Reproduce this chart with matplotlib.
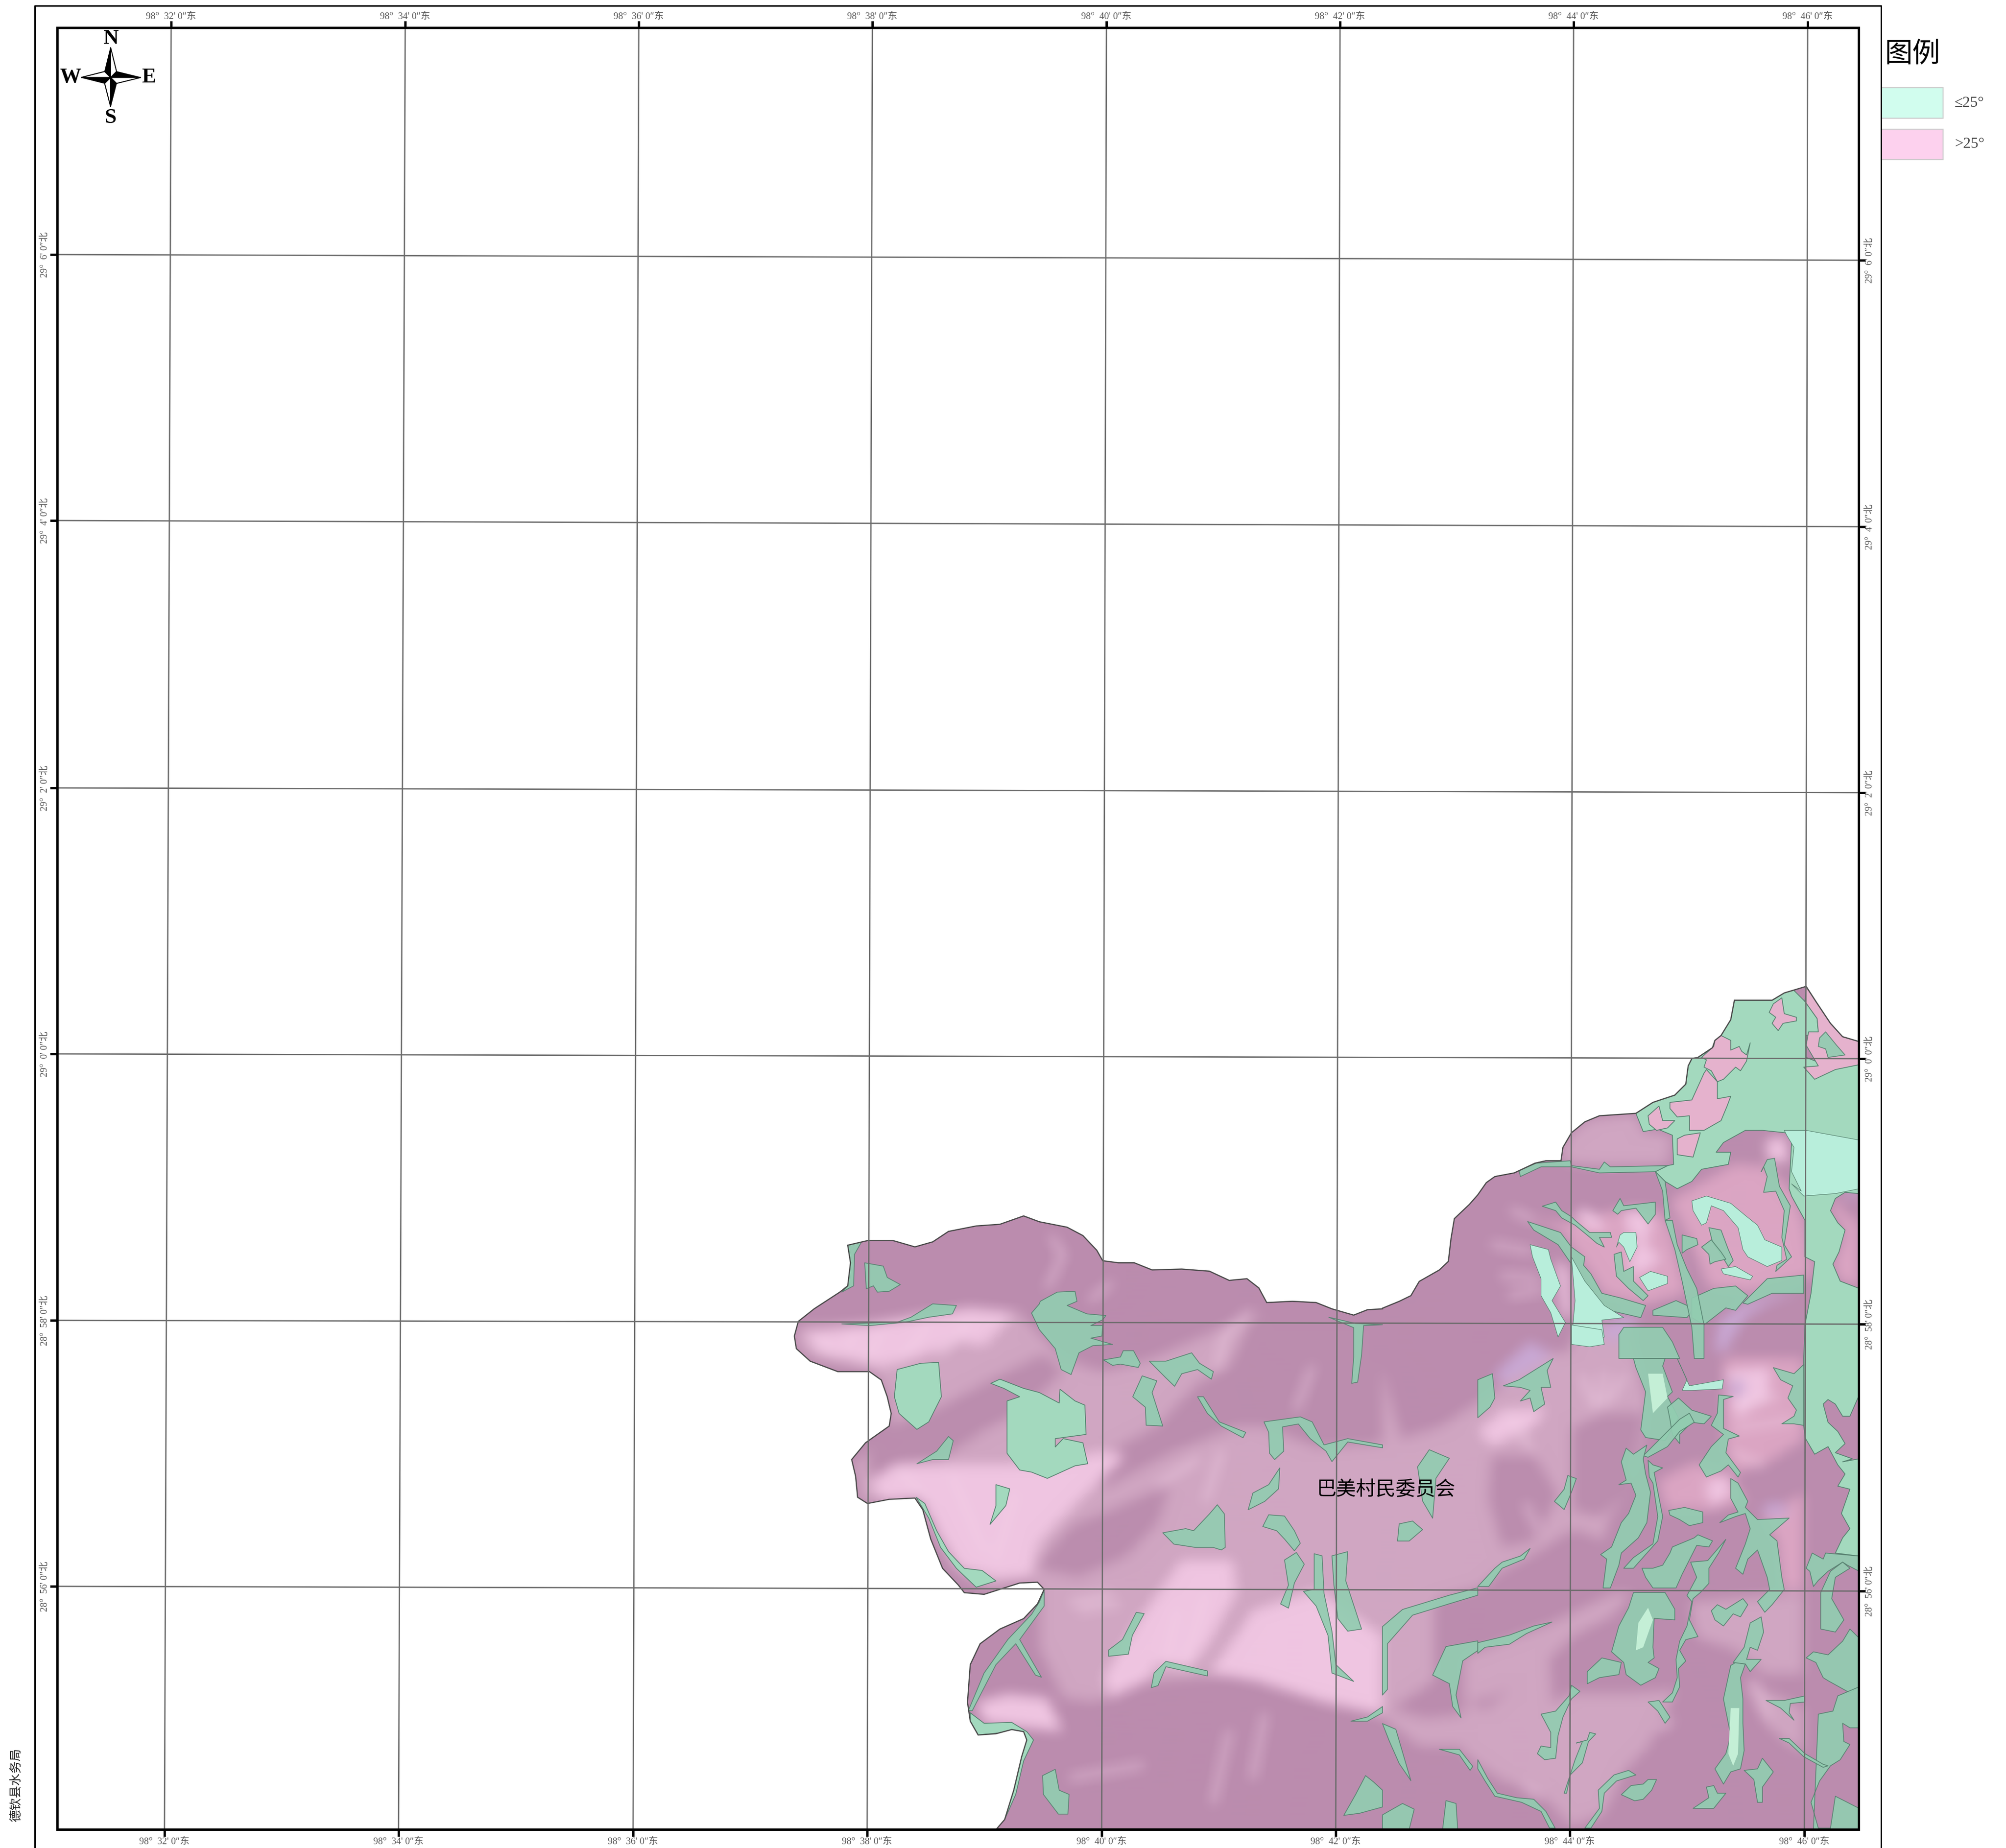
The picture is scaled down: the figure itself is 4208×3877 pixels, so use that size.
import numpy as np
import matplotlib
matplotlib.use('Agg')
import matplotlib.pyplot as plt
from matplotlib.figure import Figure
from matplotlib.backends.backend_agg import FigureCanvasAgg
from matplotlib.patches import Polygon, Rectangle

SERIF = ['Liberation Serif', 'Noto Sans CJK SC', 'DejaVu Sans']
plt.rcParams['font.family'] = SERIF

# graticule, all read in picture pixels
lon_labels = ['98°  32\' 0″东', '98°  34\' 0″东', '98°  36\' 0″东', '98°  38\' 0″东',
              '98°  40\' 0″东', '98°  42\' 0″东', '98°  44\' 0″东', '98°  46\' 0″东']
lon_top = [359, 850, 1340, 1830, 2321, 2811, 3301, 3792]
lon_bottom = [345, 836, 1328, 1819, 2311, 2802, 3293, 3785]
lat_labels = ['29°  6\' 0″北', '29°  4\' 0″北', '29°  2\' 0″北', '29°  0\' 0″北',
              '28°  58\' 0″北', '28°  56\' 0″北']
lat_left = [534, 1092, 1653, 2211, 2770, 3328]
lat_right = [546, 1105, 1663, 2221, 2778, 3338]

def crop_a(pts):
    return [(1600 + x / 1.206, 2500 + y / 1.1387) for x, y in pts]

def crop_b(pts):
    return [(2900 + x / 1.4255, 2000 + y / 0.8354) for x, y in pts]

def crop_c(pts):
    return [(3100 + x / 1.96, 2050 + y / 1.96) for x, y in pts]

def crop_d(pts):
    return [(3100 + x / 1.96, 2850 + y / 1.568) for x, y in pts]

boundary = crop_a([(80,345),(90,310),(130,280),(195,240),(215,225),(222,170),(215,128),(265,117),(330,117),
    (385,132),(430,120),(470,95),(540,82),(600,78),(660,58),(700,72),(770,85),(810,105),(845,140),(860,165),
    (900,170),(940,170),(985,187),(1060,185),(1130,190),(1180,212),(1225,208),(1255,230),(1275,265),(1340,262),
    (1400,265),(1440,280),(1495,295),(1530,282),(1568,280)]) + crop_b([(0,622),(50,610),(85,600),(110,575),
    (170,555),(197,540),(205,500),(215,465),(260,440)]) + crop_c([(0,895),(35,845),(70,820),(150,805),(235,765),
    (280,755),(342,755),(350,700),(385,640),(440,595),(500,570),(650,560),(720,515),(810,485),(855,440),(865,365),
    (880,335),(905,330),(965,290),(975,260),(1000,240),(1040,175),(1055,95),(1210,95),(1260,65),(1350,38),(1390,100),
    (1450,190),(1500,245),(1568,265)]) + crop_b([(1424,1535)]) + crop_a([
    (592,1522),(612,1500),(635,1430),(655,1350),(668,1310),(660,1290),(630,1285),(590,1295),(545,1298),(525,1265),
    (518,1220),(525,1130),(550,1080),(600,1045),(660,1020),(695,985),(712,950),(695,933),(650,935),(600,950),
    (560,962),(510,958),(495,940),(455,900),(425,830),(405,760),(385,732),(320,735),(265,745),(240,730),(235,680),
    (225,640),(260,600),(320,560),(325,530),(315,490),(300,450),(270,430),(190,430),(120,405),(85,375)])

# terrain tones, painted in this order and then softened
mid_tones = [
    crop_a([(90,320),(250,316),(430,290),(530,275),(650,290),(760,400),(860,430),(980,400),(1150,330),(1240,290),
            (1420,340),(1568,420),(1700,900),(1700,1170),(1568,1250),(1420,1220),(1200,1155),(960,1175),(840,1220),(760,1210),(700,1090),
            (700,960),(680,930),(560,950),(480,900),(400,735),(250,745),(230,650),(320,570),(320,490),(280,430),
            (120,400),(85,370)]),
    crop_b([(0,860),(170,830),(330,770),(500,700),(700,695),(780,780),(730,900),(660,1030),(530,1000),(440,1040),
            (300,1110),(180,1130),(0,1190)]),
    crop_b([(0,1320),(130,1340),(300,1330),(500,1230),(520,1400),(300,1390),(110,1390),(0,1340)]),
    crop_d([(-60,300),(60,200),(100,170),(280,160),(420,-120),(620,-120),(700,150),(680,300),(620,440),(520,540),(380,570),(220,650),(30,730),(-60,770)]),
    crop_d([(-60,980),(300,870),(380,840),(560,770),(640,770),(550,850),(400,910),(280,1000),(150,1080),(40,1120),(-60,1130)]),
    crop_d([(-60,1130),(200,1190),(380,1100),(640,1100),(820,1090),(700,1280),(600,1360),(520,1500),(380,1540),(260,1430),(100,1390),(-60,1300)]),
    crop_d([(870,800),(1340,770),(1340,1040),(1180,1040),(1060,960),(900,920)]),
    crop_d([(1100,1060),(1340,1150),(1340,1300),(1260,1260),(1180,1200)]),
    crop_c([(345,750),(350,700),(385,640),(460,585),(650,560),(680,635),(800,650),(780,775),(530,780),(385,770)]),
]
dark_tones = [
    crop_a([(270,620),(320,560),(440,520),(600,440),(710,390),(760,430),(660,520),(560,570),(450,640),(340,650),(270,690)]),
    crop_a([(860,710),(1040,620),(1200,560),(1270,560),(1400,610),(1568,600),(1568,300),(1240,300),(1180,420),(1100,460),(1000,560),(840,640)]),
    crop_a([(690,900),(780,800),(860,770),(1030,700),(1000,790),(920,870),(800,920)]),
    crop_d([(45,460),(60,320),(230,320),(330,450),(230,600),(100,620)]),
    crop_d([(390,230),(520,180),(680,180),(620,440),(500,520),(390,500)]),
    crop_d([(900,280),(1000,240),(960,330),(880,370),(800,350)]),
    crop_c([(990,720),(1040,670),(1170,630),(1270,640),(1290,800),(1190,850),(1100,790),(1010,770)]),
    crop_c([(810,880),(860,825),(840,870),(855,900),(830,930),(810,890)]),
]
rose_tones = [
    crop_c([(210,1000),(340,1040),(470,1230),(520,1310),(680,1350),(860,1300),(810,1100),(780,1000),(720,950),(560,960),(400,1010)]),
    crop_c([(790,920),(880,1100),(950,1280),(1120,1300),(1380,1230),(1340,1000),(1290,880),(1190,780),(1050,770)]),
    crop_c([(1450,960),(1470,910),(1490,915),(1490,950),(1530,990),(1568,1000),(1568,1280),(1490,1250),(1460,1180),(1485,1130),(1510,1040),(1480,1010)]),
    crop_d([(740,400),(900,340),(1030,380),(1110,470),(950,500),(770,500)]),
    crop_d([(1170,530),(1340,440),(1340,760),(1250,760),(1230,600)]),
    crop_d([(1010,0),(1340,0),(1340,270),(1200,340),(1050,380),(1010,280)]),
]
light_tones = [
    crop_a([(100,340),(250,320),(520,280),(640,290),(560,370),(500,360),(380,400),(300,420),(140,385)]),
    crop_a([(270,690),(340,650),(620,650),(760,640),(860,620),(920,630),(790,750),(700,840),(680,920),(590,925),(500,900),(450,830),(400,735),(300,740)]),
    crop_a([(860,1160),(960,1010),(1060,880),(1190,880),(1200,960),(1130,1080),(1080,1140),(1000,1130),(970,1170),(880,1210)]),
    crop_a([(1130,1150),(1240,1000),(1400,950),(1568,1060),(1568,1250),(1420,1220),(1250,1170)]),
    crop_a([(540,1220),(620,1200),(720,1210),(760,1290),(660,1280),(560,1270)]),
    crop_c([(430,950),(500,990),(530,1040),(460,1040),(400,980)]),
    crop_c([(610,960),(650,950),(720,1010),(690,1100),(760,1160),(640,1240),(620,1170),(660,1080),(610,1040)]),
    crop_c([(1180,680),(1260,650),(1280,760),(1200,760)]),
    crop_c([(320,1160),(370,1200),(385,1400),(350,1400),(330,1260)]),
    crop_d([(1020,40),(1200,30),(1200,130),(1060,200)]),
    crop_d([(930,410),(1030,380),(1040,450),(960,490)]),
    crop_d([(0,240),(100,170),(280,160),(240,220),(60,290)]),
]
purple_tones = [
    crop_b([(330,740),(440,680),(500,700),(520,690),(480,720),(360,755)]),
    crop_c([(990,1420),(1040,1380),(1090,1345),(1210,1310),(1330,1300),(1210,1335),(1110,1390),(1060,1460),(1020,1540),(975,1540)]),
    crop_c([(520,1430),(600,1390),(680,1410),(640,1440),(560,1510),(510,1470)]),
    crop_c([(1510,885),(1568,880),(1568,910),(1510,905)]),
    crop_d([(1040,70),(1100,80),(1080,125),(1030,120)]),
    crop_d([(1150,500),(1230,470),(1290,510),(1220,525)]),
]

# sunlit ridge lines
ridges = [
    crop_a([(140,350),(180,395)]), crop_a([(230,330),(215,385)]), crop_a([(300,340),(260,400)]),
    crop_a([(420,320),(350,400)]), crop_a([(520,320),(450,390)]), crop_a([(730,110),(760,150),(720,230)]),
    crop_a([(880,220),(830,260)]), crop_a([(1230,290),(1170,340),(1150,420)]), crop_a([(1390,420),(1350,520)]),
    crop_a([(340,660),(420,740)]), crop_a([(480,680),(560,860)]), crop_a([(640,720),(590,880)]),
    crop_a([(780,980),(880,960)]), crop_a([(1180,1290),(1140,1460)]), crop_a([(1270,1250),(1240,1400)]),
    crop_a([(780,1400),(960,1370)]), crop_a([(1050,1000),(1020,1120)]), crop_a([(1120,960),(1070,1120)]),
    crop_a([(800,1000),(900,985)]), crop_a([(1000,700),(1100,640)]), crop_a([(1160,620),(1120,740)]),
    crop_c([(140,960),(230,1000)]), crop_c([(60,1100),(220,1130)]), crop_c([(100,1230),(250,1240)]),
    crop_c([(130,1310),(260,1290)]), crop_d([(130,180),(220,300)]), crop_d([(200,480),(240,560)]),
    crop_d([(430,60),(480,160)]), crop_d([(520,50),(500,150)]), crop_d([(600,60),(530,150)]),
    crop_d([(1060,160),(1230,130)]), crop_d([(1060,230),(1290,200)]), crop_d([(1050,310),(1170,350)]),
    crop_d([(1130,1060),(1190,1180)]), crop_d([(750,1220),(800,1190)]), crop_d([(190,1410),(260,1440)]),
]

# <=25 degree ground, broad areas first
pale_parcels = [
    crop_a([(340,425),(400,410),(445,408),(452,490),(420,550),(390,568),(345,530),(333,490)]),
    crop_a([(577,458),(600,448),(660,470),(700,480),(750,505),(752,472),(790,500),(815,510),(818,580),(740,590),
            (740,610),(760,590),(810,600),(822,650),(790,655),(720,685),(680,670),(650,665),(618,625),(618,500),(650,490),(610,470)]),
    crop_a([(590,700),(625,710),(615,750),(575,795),(590,750)]),
    crop_a([(388,730),(410,745),(440,810),(470,860),(510,900),(555,905),(590,930),(540,945),(490,900),(450,850),(420,780)]),
    crop_a([(525,1245),(560,1270),(630,1268),(668,1290),(685,1310),(660,1360),(640,1440),(612,1500),(630,1430),(650,1330),(655,1300),(630,1290),(545,1298),(525,1265)]),
    crop_c([(650,560),(720,515),(810,485),(855,440),(865,365),(880,335),(905,330),(970,285),(975,260),(1000,240),(1040,175),
            (1055,95),(1210,95),(1260,65),(1295,50),(1345,100),(1395,170),(1400,225),(1350,240),(1350,330),(1400,350),(1568,340),
            (1568,890),(1510,885),(1470,910),(1450,960),(1480,1010),(1510,1040),(1485,1130),(1460,1180),(1490,1250),(1568,1280)])
    + crop_d([(1568,120),(1530,190),(1500,190),(1470,150),(1440,135),(1420,150),(1440,210),(1480,240),(1510,280),
            (1470,310),(1540,330),(1500,340),(1568,330),(1568,650),(1470,640),(1500,590),(1530,560),(1495,510),(1530,430),(1480,420),
            (1510,380),(1480,350),(1440,290),(1385,315),(1345,260),(1340,220),(1340,0)])
    + crop_c([(1345,1430),(1370,1300),(1385,1170),(1345,1150),(1345,1000),(1290,900),(1280,870),(1290,680),
            (1265,640),(1170,630),(1100,630),(1010,680),(980,720),(1040,720),(1030,770),(920,790),(880,840),(820,870),(770,840),
            (730,800),(780,775),(805,770),(800,650),(740,625),(680,635)]),
]
# steep ground inside the large north-east area
pink_inclusions = [
    crop_c([(1215,110),(1250,85),(1260,150),(1310,165),(1310,180),(1255,190),(1235,220),(1210,190),(1225,165),(1198,145)]),
    crop_c([(920,330),(970,285),(975,260),(1000,240),(1040,260),(1040,300),(1075,285),(1085,305),(1105,320),(1120,270),
            (1105,345),(1080,385),(1060,370),(1010,420),(985,430),(960,385),(930,370),(940,340)]),
    crop_c([(790,515),(880,505),(930,395),(940,380),(985,430),(985,500),(1040,490),(1025,530),(1000,590),(930,630),(870,630),(870,570),(820,575),(790,540)]),
    crop_c([(700,570),(745,530),(760,590),(810,590),(780,620),(735,630),(705,605)]),
    crop_c([(820,665),(850,650),(915,640),(885,740),(820,730)]),
    crop_c([(1350,40),(1390,100),(1450,190),(1500,245),(1568,265),(1568,360),(1470,380),(1385,420),(1340,370),(1400,365),(1350,280),(1360,225),(1400,225),(1395,170),(1345,100)]),
]
bright_parcels = [
    crop_c([(1260,630),(1350,630),(1568,670),(1568,870),(1470,890),(1340,900),(1290,850),(1330,880),(1290,800),(1300,700),(1270,650)]),
    crop_c([(880,920),(940,900),(1040,930),(1100,980),(1150,1020),(1180,1080),(1250,1110),(1250,1165),(1190,1190),(1110,1150),(1090,1120),(1070,1030),(1010,960),(960,940),(940,1010),(920,1020),(885,960)]),
    crop_c([(215,1100),(290,1120),(300,1160),(340,1270),(305,1330),(360,1420),(330,1480),(300,1380),(260,1310),(260,1240),(225,1150)]),
    crop_c([(385,1150),(440,1250),(520,1350),(600,1400),(510,1410),(520,1480),(480,1500),(385,1500),(400,1330)]),
    crop_c([(600,1050),(650,1050),(655,1110),(625,1170),(600,1110),(580,1090),(570,1110),(585,1060)]),
    crop_c([(665,1235),(710,1210),(780,1230),(780,1260),(700,1290)]),
    crop_c([(1000,1200),(1060,1190),(1130,1230),(1120,1245),(1010,1220)]),
    crop_c([(385,1430),(385,1510),(460,1520),(520,1510),(510,1450)]),
    crop_d([(820,0),(870,90),(1010,70),(1005,100),(880,105),(840,105),(860,70)]),
]
green_parcels = [
    crop_a([(215,128),(250,120),(232,150),(230,225),(200,240),(215,225),(222,170)]),
    crop_a([(258,170),(305,178),(315,205),(348,222),(320,238),(290,240),(280,225),(262,232)]),
    crop_a([(200,316),(340,312),(375,300),(430,268),(490,272),(480,292),(420,300),(360,312),(270,320)]),
    crop_a([(702,262),(745,240),(790,238),(795,262),(770,272),(820,292),(868,296),(860,306),(830,320),(860,320),
            (858,345),(830,350),(885,365),(835,368),(800,385),(780,437),(755,425),(740,375),(700,330),(680,290),(700,268)]),
    crop_a([(862,402),(905,395),(912,380),(938,380),(955,410),(950,420),(905,412),(885,415)]),
    crop_a([(978,405),(1020,405),(1085,385),(1105,410),(1140,430),(1135,448),(1100,425),(1060,435),(1042,465),(1020,445)]),
    crop_a([(1432,300),(1500,315),(1568,318),(1520,320),(1515,390),(1505,455),(1490,458),(1495,395),(1495,325)]),
    crop_a([(390,650),(440,620),(470,585),(482,595),(470,640),(430,640)]),
    crop_a([(1012,815),(1070,805),(1090,810),(1130,770),(1150,748),(1168,770),(1170,850),(1160,856),(1140,850),(1095,850),(1040,842)]),
    crop_a([(1228,760),(1240,720),(1280,700),(1308,660),(1305,710),(1270,740)]),
    crop_a([(936,490),(960,440),(997,452),(985,480),(1012,560),(970,558),(968,515)]),
    crop_a([(1100,490),(1115,490),(1155,550),(1222,575),(1215,588),(1160,560),(1125,530)]),
    crop_a([(1268,550),(1360,538),(1390,550),(1420,605),(1480,590),(1568,605),(1568,612),(1480,598),(1440,645),(1425,620),
            (1385,590),(1355,555),(1315,562),(1318,620),(1295,640),(1282,625),(1280,575)]),
    crop_a([(1265,800),(1280,772),(1320,775),(1345,810),(1360,840),(1345,858),(1320,830),(1300,810)]),
    crop_a([(1320,880),(1350,862),(1370,890),(1345,935),(1330,995),(1310,985),(1330,940)]),
    crop_a([(1368,955),(1395,950),(1395,865),(1415,870),(1420,960),(1440,1050),(1450,1130),(1495,1170),(1440,1150),(1430,1060),(1400,990)]),
    crop_a([(1440,870),(1480,860),(1475,930),(1515,1045),(1480,1050),(1455,1020),(1445,940)]),
    crop_a([(875,1110),(875,1095),(910,1070),(945,1005),(965,1008),(935,1060),(925,1105)]),
    crop_a([(983,1185),(990,1150),(1020,1122),(1125,1145),(1125,1157),(1020,1135),(1000,1180)]),
    crop_a([(700,980),(712,952),(712,990),(650,1070),(705,1160),(690,1155),(640,1080),(590,1130),(530,1240),(520,1240),(560,1150),(620,1070),(680,1010)]),
    crop_a([(708,1395),(740,1380),(750,1430),(775,1440),(772,1487),(748,1487),(710,1440)]),
    crop_a([(1470,1490),(1500,1440),(1525,1395),(1545,1410),(1568,1430),(1568,1470),(1510,1485)]),
    crop_a([(1488,1265),(1530,1255),(1568,1230),(1568,1245),(1530,1265)]),
    crop_b([(150,1265),(190,1215),(285,1205),(285,1222),(240,1240),(220,1300),(235,1340),(210,1320),(200,1280)]),
    crop_b([(0,1180),(60,1150),(200,1125),(285,1112),(285,1125),(200,1140),(90,1160),(15,1210),(15,1290),(0,1300)]),
    crop_b([(170,1395),(230,1395),(270,1425),(262,1432),(230,1405)]),
    crop_b([(0,1350),(40,1360),(85,1450),(50,1420),(20,1380)]),
    crop_b([(0,1510),(60,1490),(95,1500),(80,1535),(0,1535)]),
    crop_b([(180,1535),(190,1485),(220,1490),(225,1535)]),
    crop_b([(120,1010),(80,1030),(45,1030),(50,1000),(90,995)]),
    crop_b([(120,960),(105,900),(140,870),(200,885),(160,920),(150,990)]),
    # north-east valleys
    crop_c([(170,795),(240,765),(380,755),(385,775),(500,790),(520,760),(545,780),(780,775),(730,800),(500,805),(385,780),(260,780),(175,820)]),
    crop_c([(265,942),(320,925),(345,960),(385,985),(400,1000),(460,1050),(545,1050),(550,1070),(500,1070),(520,1110),(490,1095),(455,1065),(400,1020),(345,990),(320,960)]),
    crop_c([(205,1005),(280,1030),(340,1050),(385,1110),(440,1150),(435,1185),(465,1220),(510,1300),(590,1320),(690,1350),(670,1400),(540,1370),(500,1340),(430,1260),(385,1180),(330,1100),(230,1040)]),
    crop_c([(555,960),(585,910),(600,940),(730,925),(730,975),(700,1015),(650,950),(590,960),(575,975)]),
    crop_c([(560,1140),(590,1130),(600,1210),(640,1190),(640,1250),(700,1310),(680,1330),(620,1280),(570,1230)]),
    crop_c([(720,1370),(815,1330),(860,1350),(875,1380),(860,1400),(720,1390)]),
    crop_c([(970,1280),(1060,1270),(1110,1310),(1060,1370),(1020,1360),(930,1430),(880,1400),(880,1320)]),
    crop_c([(770,1000),(800,1000),(820,1100),(860,1200),(900,1280),(930,1430),(930,1568),(890,1568),(880,1440),(840,1250),(810,1120)]),
    crop_c([(730,800),(770,840),(790,990),(770,1000),(760,880)]),
    crop_c([(950,1030),(1000,1040),(1030,1120),(1050,1165),(1030,1190),(1000,1140),(965,1090)]),
    crop_c([(1165,800),(1190,750),(1220,745),(1240,860),(1285,940),(1260,1100),(1290,1150),(1225,1210),(1230,1185),(1270,1160),(1250,1070),(1260,960),(1225,880),(1175,885),(1190,820),(1175,780)]),
    crop_c([(840,1135),(840,1060),(900,1075),(905,1100),(860,1120)]),
    crop_c([(920,1110),(960,1080),(1000,1130),(1020,1160),(975,1170),(955,1180),(950,1140)]),
    crop_c([(1090,1340),(1130,1300),(1190,1240),(1340,1225),(1340,1300),(1210,1300),(1110,1345)]),
    crop_c([(1405,250),(1430,225),(1475,280),(1510,320),(1440,330),(1430,295),(1400,285)]),
    crop_c([(600,1440),(760,1440),(800,1500),(830,1568),(580,1568),(580,1470)]),
    crop_d([(0,70),(60,50),(70,130),(50,160),(0,195)]),
    crop_d([(105,90),(170,70),(270,20),(310,0),(285,40),(300,95),(260,95),(275,150),(230,175),(215,130),(175,140),(215,105),(175,95)]),
    crop_d([(640,0),(770,0),(760,25),(800,110),(780,125),(825,195),(770,270),(690,260),(670,235),(690,110),(650,30)]),
    crop_d([(780,160),(825,130),(880,170),(960,190),(930,215),(880,210),(830,250),(830,280),(800,250),(790,200)]),
    crop_d([(680,320),(780,240),(830,200),(870,180),(890,210),(830,240),(780,290),(700,325)]),
    crop_d([(990,120),(1050,125),(1010,135),(1010,230),(1075,255),(1030,265),(1020,310),(1080,375),(1070,390),(1030,350),(1000,370),(940,390),(910,350),(960,290),(1010,250),(960,220),(985,180)]),
    crop_d([(580,415),(610,400),(590,340),(610,295),(640,315),(695,285),(680,330),(690,380),(710,440),(695,540),(660,590),(590,640),(580,680),(545,755),(515,755),(530,660),(505,645),(550,620),(590,540),(620,510),(650,450),(630,410)]),
    crop_d([(700,335),(720,350),(760,360),(725,375),(760,520),(740,600),(640,690),(600,690),(640,655),(720,610),(740,520),(720,410),(705,390)]),
    crop_d([(785,500),(850,490),(925,505),(925,540),(870,550),(830,530),(790,515)]),
    crop_d([(995,540),(1030,515),(1070,505),(1040,460),(1040,395),(1070,410),(1110,470),(1100,490),(1150,530),(1280,525),(1200,580),(1230,600),(1250,720),(1260,760),(1210,810),(1180,835),(1150,800),(1200,760),(1190,720),(1150,630),(1110,660),(1090,710),(1060,690),(1100,610),(1120,560),(1100,510),(1060,520)]),
    crop_d([(675,690),(720,690),(760,680),(790,640),(800,620),(890,590),(905,580),(965,600),(950,620),(900,615),(840,710),(815,755),(720,755),(690,720)]),
    crop_d([(875,670),(945,665),(1020,595),(990,640),(950,690),(950,740),(915,770),(885,790),(870,860),(905,915),(855,925),(830,960),(855,995),(825,1020),(830,1080),(800,1130),(760,1130),(800,1100),(820,1050),(815,990),(830,930),(860,880),(880,800),(860,780),(900,720)]),
    crop_d([(640,770),(770,770),(810,825),(810,860),(725,855),(720,950),(725,985),(700,1000),(745,1020),(730,1050),(670,1075),(610,1040),(600,1000),(550,965),(580,880),(620,820)]),
    crop_d([(450,1030),(510,985),(590,1000),(580,1040),(500,1050),(450,1070)]),
    crop_d([(960,830),(985,810),(1020,825),(1090,790),(1110,810),(1080,850),(1050,840),(1010,880),(975,860)]),
    crop_d([(1215,30),(1300,50),(1340,20),(1340,220),(1300,215),(1250,215),(1300,190),(1310,170),(1275,130),(1295,90),(1245,70)]),
    crop_d([(1350,690),(1375,640),(1420,660),(1430,640),(1568,650),(1568,700),(1520,680),(1500,670),(1440,700),(1400,730),(1380,750),(1365,700)]),
    crop_d([(1410,770),(1450,700),(1500,670),(1530,690),(1470,720),(1455,790),(1505,860),(1470,900),(1410,890)]),
    crop_d([(1350,985),(1380,965),(1440,975),(1500,930),(1530,890),(1568,920),(1568,1080),(1530,1100),(1440,1060),(1420,1050),(1390,1000)]),
    crop_d([(1400,1170),(1460,1160),(1480,1110),(1568,1080),(1568,1215),(1530,1215),(1500,1200),(1505,1260),(1530,1270),(1490,1320),(1450,1340),(1405,1390),(1370,1460),(1400,1545),(1450,1545),(1470,1440),(1568,1480),(1568,1550),(1380,1550)]),
    crop_d([(1240,1250),(1280,1250),(1345,1300),(1420,1335),(1440,1340),(1420,1345),(1340,1310),(1280,1265)]),
    crop_d([(1185,1125),(1260,1125),(1345,1110),(1345,1130),(1285,1135),(1280,1165),(1300,1190),(1245,1150)]),
    crop_d([(1095,1355),(1150,1350),(1170,1315),(1215,1360),(1170,1410),(1170,1460),(1150,1460),(1135,1385)]),
    crop_d([(885,1480),(950,1445),(940,1410),(970,1405),(985,1430),(1020,1430),(970,1480)]),
    crop_d([(1010,1400),(975,1350),(1020,1300),(1040,1240),(1010,1120),(1040,1010),(1060,1000),(1100,1005),(1080,1050),(1090,1120),(1090,1200),(1095,1290),(1080,1350),(1040,1360)]),
    crop_d([(1050,1000),(1095,950),(1120,870),(1165,850),(1175,900),(1150,960),(1120,950),(1105,990),(1165,990),(1120,1030),(1100,1005)]),
    crop_d([(700,1130),(745,1125),(790,1180),(770,1200),(740,1160)]),
    crop_d([(590,1435),(630,1405),(680,1400),(700,1385),(735,1385),(715,1420),(680,1450),(645,1455)]),
    crop_d([(440,1545),(500,1480),(495,1420),(560,1370),(620,1355),(650,1370),(570,1390),(520,1430),(510,1490),(465,1545)]),
    crop_d([(355,1430),(400,1320),(430,1260),(405,1265),(450,1255),(460,1230),(485,1235),(455,1260),(430,1330),(380,1370),(365,1430)]),
    crop_d([(260,1170),(320,1160),(375,1110),(385,1075),(420,1095),(385,1120),(350,1180),(330,1240),(320,1315),(275,1320),(245,1300),(260,1275),(300,1280),(300,1230)]),
    crop_d([(0,935),(130,910),(230,880),(305,867),(200,905),(130,940),(30,950),(0,970)]),
    crop_d([(0,750),(70,690),(100,670),(175,650),(215,625),(190,660),(100,690),(45,750)]),
    crop_d([(315,470),(355,430),(370,385),(405,395),(385,440),(355,497)]),
    crop_d([(0,1320),(40,1380),(80,1430),(160,1445),(230,1450),(280,1490),(318,1545),(295,1545),(260,1490),(180,1460),(70,1440),(30,1390),(0,1350)]),
]
valley_cores = [
    crop_d([(660,870),(700,820),(720,860),(680,950),(650,960)]),
    crop_d([(1040,1150),(1075,1150),(1070,1300),(1050,1340),(1030,1300)]),
    crop_d([(700,50),(760,50),(780,130),(720,180)]),
]

legend_labels = ['≤25°', '>25°']
legend_colors = ['#d1fdee', '#fdd1ee']

W, H = 4208, 3877

# terrain is drawn on a half size canvas, blurred, and put back as an image
def terrain_image():
    f = Figure(figsize=(W / 200, H / 200), dpi=100, facecolor='#bb8cae')
    FigureCanvasAgg(f)
    t = f.add_axes([0, 0, 1, 1])
    t.set_xlim(0, W)
    t.set_ylim(H, 0)
    t.axis('off')
    for polys, col in [(mid_tones, '#d0a6c2'), (dark_tones, '#bb8dae'), (rose_tones, '#dba5c3'),
                       (light_tones, '#efc5e1'), (purple_tones, '#c9a8d4')]:
        for p in polys:
            t.add_patch(Polygon(p, closed=True, facecolor=col, edgecolor='none'))
    for r in ridges:
        t.plot([p[0] for p in r], [p[1] for p in r], color='#f6d4ea', lw=2.5)
    f.canvas.draw()
    img = np.asarray(f.canvas.buffer_rgba())[:, :, :3].astype(float)
    for axis in (0, 1):
        for i in range(2):
            c = np.cumsum(img, axis=axis)
            img = (np.roll(c, -7, axis=axis) - np.roll(c, 8, axis=axis)) / 15
            # the wrapped rows at the rim are outside the map
    return np.clip(img, 0, 255).astype(np.uint8)

fig = plt.figure(figsize=(42.08, 38.77), dpi=100)
ax = fig.add_axes([0, 0, 1, 1])
ax.axis('off')

map_shape = Polygon(boundary, closed=True, facecolor='#bb8cae', edgecolor='none', zorder=1)
ax.add_patch(map_shape)
im = ax.imshow(terrain_image(), extent=(0, W, H, 0), aspect='auto', zorder=2, interpolation='bilinear')
im.set_clip_path(map_shape)
ax.set_xlim(0, W)
ax.set_ylim(H, 0)

def paint(polys, color, z, edge='none', lw=0, alpha=1):
    for p in polys:
        patch = Polygon(p, closed=True, facecolor=color, edgecolor=edge, linewidth=lw,
                        alpha=alpha, joinstyle='round', zorder=z)
        ax.add_patch(patch)
        patch.set_clip_path(map_shape)

EDGE = '#55806e'
paint(pale_parcels, '#a3d9be', 6, EDGE, 1.2)
paint(pink_inclusions, '#e5b2cd', 7, EDGE, 1.2)
paint(green_parcels, '#92cdb1', 9, EDGE, 1.2, .92)
paint(bright_parcels, '#b8eedb', 9.5, EDGE, .8)
paint(valley_cores, '#c4efd6', 9.7)

# outline on top of everything
ax.add_patch(Polygon(boundary, closed=True, fill=False, edgecolor='#4a4a4a', linewidth=1.8, zorder=10))

# graticule
for a, b in zip(lon_top, lon_bottom):
    ax.plot([a, b], [58, 3838], color='#6b6b6b', lw=2.0, zorder=11)
for a, b in zip(lat_left, lat_right):
    ax.plot([120, 3899], [a, b], color='#6b6b6b', lw=2.0, zorder=11)

# ticks and their labels
for lab, a, b in zip(lon_labels, lon_top, lon_bottom):
    ax.plot([a, a], [44, 58], color='black', lw=3.6, solid_capstyle='butt', zorder=13)
    ax.plot([b, b], [3838, 3853], color='black', lw=3.6, solid_capstyle='butt', zorder=13)
    ax.text(a, 35, lab, ha='center', va='center', fontsize=14.5, color='#555555', family=SERIF)
    ax.text(b, 3864, lab, ha='center', va='center', fontsize=14.5, color='#555555', family=SERIF)
for lab, a, b in zip(lat_labels, lat_left, lat_right):
    ax.plot([105, 120], [a, a], color='black', lw=3.6, solid_capstyle='butt', zorder=13)
    ax.plot([3899, 3913], [b, b], color='black', lw=3.6, solid_capstyle='butt', zorder=13)
    ax.text(95, a, lab, ha='center', va='center', rotation=90, fontsize=14.5, color='#555555', family=SERIF)
    ax.text(3923, b, lab, ha='center', va='center', rotation=90, fontsize=14.5, color='#555555', family=SERIF)

# neatline, outer frame
ax.add_patch(Rectangle((120, 58), 3779, 3780, fill=False, edgecolor='black', linewidth=3.6, zorder=14))
ax.plot([73, 73, 3946, 3946], [3877, 12, 12, 3877], color='black', lw=2.2, zorder=14)

# compass
cx, cy = 232, 162.5
north_tip, south_tip, west_tip, east_tip = 99.5, 224, 170, 295.5
d = 12.5
black_parts = [
    [(cx, north_tip), (cx - d, cy - d), (cx, cy)],
    [(east_tip, cy), (cx + d, cy - d), (cx, cy)],
    [(cx, south_tip), (cx + d, cy + d), (cx, cy)],
    [(west_tip, cy), (cx - d, cy + d), (cx, cy)],
]
white_parts = [
    [(cx, north_tip), (cx + d, cy - d), (cx, cy)],
    [(east_tip, cy), (cx + d, cy + d), (cx, cy)],
    [(cx, south_tip), (cx - d, cy + d), (cx, cy)],
    [(west_tip, cy), (cx - d, cy - d), (cx, cy)],
]
for p in black_parts:
    ax.add_patch(Polygon(p, closed=True, facecolor='black', edgecolor='black', linewidth=1, zorder=15))
for p in white_parts:
    ax.add_patch(Polygon(p, closed=True, facecolor='white', edgecolor='black', linewidth=1.5, zorder=15))
for s, x, y in [('N', 232, 81), ('S', 232, 247), ('W', 148, 162), ('E', 312, 162)]:
    ax.text(x, y, s, ha='center', va='center', fontsize=32, fontweight='bold',
            family='Liberation Serif', zorder=15)

# legend
ax.text(4012, 115, '图例', ha='center', va='center', fontsize=42, family=SERIF)
for lab, col, y0 in zip(legend_labels, legend_colors, [184, 271]):
    ax.add_patch(Rectangle((3947, y0), 129, 64, facecolor=col, edgecolor='#c8c8c8', linewidth=1.5, zorder=2))
    ax.text(4100, y0 + 32, lab, ha='left', va='center', fontsize=23, color='#444444', family=SERIF)

ax.text(2907, 3127, '巴美村民委员会', ha='center', va='center', fontsize=30, family=SERIF, zorder=16)
ax.text(35, 3745, '德钦县水务局', ha='center', va='center', rotation=90, fontsize=18.5, color='#222222', family=SERIF)

fig.savefig('out.png', dpi=100, facecolor='white')
